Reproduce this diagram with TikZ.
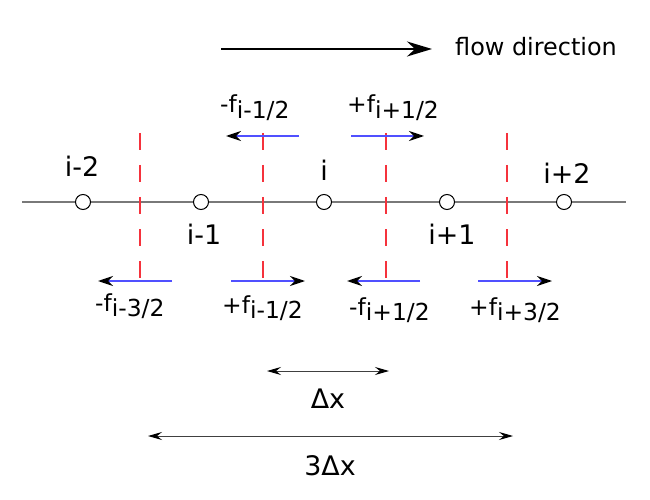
\documentclass[tikz,border=0pt]{standalone}
\usepackage{fontspec}
\setmainfont{DejaVu Sans}
\usetikzlibrary{arrows.meta}
\definecolor{fluxblue}{RGB}{80,80,255}
\definecolor{facered}{RGB}{245,50,60}
\newcommand\flx[2]{#1f\raisebox{-6pt}{#2}}
\begin{document}
\begin{tikzpicture}[x=1bp,y=-1bp,
  axisline/.style={draw=gray!95!black,line width=1.6bp},
  gridpt/.style={circle,draw=black,fill=white,line width=1bp,minimum size=15bp,inner sep=0pt},
  face/.style={draw=facered,line width=1.6bp,dash pattern=on 17bp off 15bp},
  flux/.style={draw=fluxblue,line width=1.6bp,-{Stealth[length=15bp,width=10bp,inset=5bp,color=black]}},
  span/.style={draw=black!75,line width=1bp,{Stealth[length=14bp,width=8bp,inset=5bp,color=black]}-{Stealth[length=14bp,width=8bp,inset=5bp,color=black]}},
  lab/.style={anchor=base,inner sep=0pt,font=\fontsize{27}{30}\selectfont},
  flab/.style={anchor=base west,inner sep=0pt,font=\fontsize{23.5}{26}\selectfont},
]
\useasboundingbox (0,0) rectangle (650,500);
% flow direction
\coordinate (fs) at (221,49);
\coordinate (fe) at (432,49);
\draw[line width=2bp,-{Stealth[length=25bp,width=15bp,inset=8bp]}] (fs) -- (fe);
\node[anchor=base west,inner sep=0pt,font=\fontsize{24}{27}\selectfont] (flowtxt) at (455,56) {flow direction};
% axis
\coordinate (al) at (22,202);
\coordinate (ar) at (626,202);
\draw[axisline] (al) -- (ar);
% cell faces
\foreach \n/\x in {f1/140,f2/263,f3/386,f4/507}{
  \coordinate (\n t) at (\x,133);
  \coordinate (\n b) at (\x,281);
  \draw[face] (\n t) -- (\n b);
}
% grid points
\node[gridpt] (p1) at (83,202) {};
\node[gridpt] (p2) at (201,202) {};
\node[gridpt] (p3) at (324,202) {};
\node[gridpt] (p4) at (447,202) {};
\node[gridpt] (p5) at (564,202) {};
% point labels
\node[lab] (l1) at (82,177) {i-2};
\node[lab] (l2) at (204,245) {i-1};
\node[lab] (l3) at (324,181) {i};
\node[lab] (l4) at (452,245) {i+1};
\node[lab] (l5) at (567,184) {i+2};
% top fluxes
\coordinate (a1s) at (299,136); \coordinate (a1e) at (226,136);
\coordinate (a2s) at (351,136); \coordinate (a2e) at (424,136);
\draw[flux] (a1s) -- (a1e);
\draw[flux] (a2s) -- (a2e);
\node[flab] (t1) at (220,113) {\flx{-}{i-1/2}};
\node[flab] (t2) at (347,113) {\flx{+}{i+1/2}};
% bottom fluxes
\coordinate (b1s) at (172,281); \coordinate (b1e) at (98,281);
\coordinate (b2s) at (231,281); \coordinate (b2e) at (305,281);
\coordinate (b3s) at (420,281); \coordinate (b3e) at (347,281);
\coordinate (b4s) at (478,281); \coordinate (b4e) at (552,281);
\draw[flux] (b1s) -- (b1e);
\draw[flux] (b2s) -- (b2e);
\draw[flux] (b3s) -- (b3e);
\draw[flux] (b4s) -- (b4e);
\node[flab] (u1) at (95,311) {\flx{-}{i-3/2}};
\node[flab] (u2) at (222,313) {\flx{+}{i-1/2}};
\node[flab] (u3) at (349,315) {\flx{-}{i+1/2}};
\node[flab] (u4) at (469,315) {\flx{+}{i+3/2}};
% spans
\coordinate (d1l) at (267,371); \coordinate (d1r) at (389,371);
\coordinate (d3l) at (148,436); \coordinate (d3r) at (513,436);
\draw[span] (d1l) -- (d1r);
\draw[span] (d3l) -- (d3r);
\node[lab] (dx) at (328,408) {Δx};
\node[lab] (dx3) at (330,475) {3Δx};
\end{tikzpicture}
\end{document}
